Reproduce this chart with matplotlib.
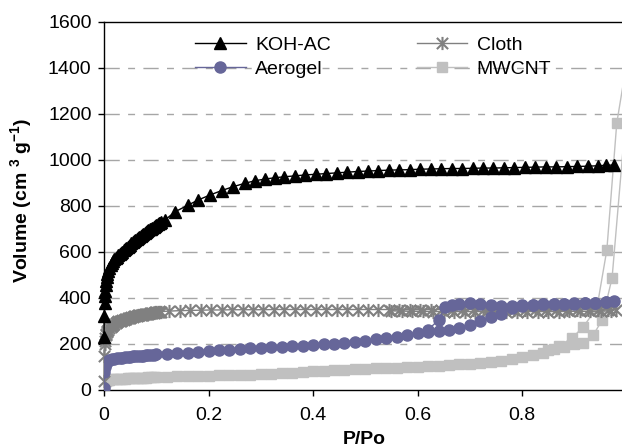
import matplotlib
matplotlib.use("Agg")
import matplotlib.pyplot as plt
from matplotlib.path import Path

plt.rcParams['font.family'] = ['Liberation Sans', 'DejaVu Sans']
plt.rcParams['mathtext.fontset'] = 'custom'
plt.rcParams['mathtext.rm'] = 'Liberation Sans'
plt.rcParams['mathtext.bf'] = 'Liberation Sans:bold'

# ---------------- data ----------------
koh_x = [0.0, 0.0005, 0.001, 0.0015, 0.002, 0.003, 0.004, 0.005, 0.0065, 0.008,
         0.01, 0.0125, 0.015, 0.0175, 0.02, 0.0225, 0.025, 0.0275, 0.03, 0.0325,
         0.035, 0.0375, 0.04, 0.0425, 0.045, 0.0475, 0.05, 0.0525, 0.055, 0.0575,
         0.06, 0.0625, 0.065, 0.0675, 0.07, 0.0725, 0.075, 0.0775, 0.08, 0.0825,
         0.085, 0.0875, 0.09, 0.0925, 0.095, 0.0975, 0.1, 0.1025, 0.105, 0.1075, 0.11,
         0.117, 0.136, 0.161, 0.18, 0.203, 0.225,
         0.247, 0.27, 0.289, 0.308, 0.327, 0.345, 0.365, 0.385, 0.405, 0.425, 0.445, 0.465,
         0.485, 0.505, 0.525, 0.545, 0.565, 0.585, 0.605, 0.625, 0.645, 0.665, 0.685, 0.705,
         0.725, 0.745, 0.765, 0.785, 0.805, 0.825, 0.845, 0.865, 0.885, 0.905, 0.925, 0.945,
         0.96, 0.975]
koh_y = [230, 320, 380, 410, 430, 455, 475, 490, 505, 518,
         530, 542, 552, 560, 568, 574, 580, 585, 590, 596,
         602, 607, 612, 617, 622, 627, 632, 637, 642, 647,
         652, 657, 662, 666, 670, 674, 678, 682, 687, 691,
         695, 698, 702, 706, 710, 714, 718, 721, 725, 728, 732,
         740, 775, 804, 826, 848, 867,
         884, 899, 910, 917, 923, 927, 931, 935, 938, 941, 944, 947,
         950, 952, 954, 956, 957, 958, 960, 961, 962, 963, 963, 964,
         965, 965, 966, 967, 968, 969, 970, 970, 971, 972, 973, 975,
         977, 978]

aero_x = [0.0, 0.0005, 0.001, 0.002, 0.003, 0.005, 0.0075, 0.01, 0.015, 0.02, 0.025,
          0.03, 0.035, 0.04, 0.045, 0.05, 0.055, 0.06, 0.065, 0.07, 0.075, 0.08, 0.085,
          0.09, 0.095, 0.1, 0.12, 0.14, 0.16, 0.18, 0.2, 0.22, 0.24, 0.26, 0.28, 0.3, 0.32,
          0.34, 0.36, 0.38, 0.4, 0.42, 0.44, 0.46, 0.48, 0.5, 0.52, 0.54, 0.56, 0.58, 0.6,
          0.62, 0.64, 0.66, 0.68, 0.7, 0.72, 0.74, 0.76, 0.78, 0.8, 0.82, 0.84, 0.86, 0.88,
          0.9, 0.92, 0.94, 0.96, 0.975,
          0.96, 0.94, 0.92, 0.9, 0.88, 0.86, 0.84, 0.82, 0.8, 0.78, 0.76, 0.74, 0.72, 0.7,
          0.68, 0.665, 0.653, 0.64, 0.62]
aero_y = [10, 80, 100, 110, 117, 123, 127, 130, 133, 135, 137,
          139, 141, 142, 144, 145, 146, 147, 148, 149, 150, 151, 152,
          153, 154, 155, 158, 160, 162, 166, 169, 173, 176, 179, 182, 184, 186,
          188, 190, 192, 195, 198, 201, 205, 210, 215, 220, 226, 232, 240, 248,
          254, 258, 262, 269, 283, 299, 317, 332, 356, 366, 370, 372, 373, 375,
          376, 377, 379, 382, 386,
          383, 380, 379, 377, 375, 373, 372, 370, 368, 365, 366, 370, 372, 378,
          376, 370, 362, 304, 262]

cloth_x = [0.0, 0.0005, 0.001, 0.0015, 0.002, 0.003, 0.004, 0.005, 0.0065, 0.008,
           0.01, 0.0125, 0.015, 0.0175, 0.02, 0.0225, 0.025, 0.0275, 0.03, 0.0325,
           0.035, 0.0375, 0.04, 0.0425, 0.045, 0.0475, 0.05, 0.0525, 0.055, 0.0575,
           0.06, 0.0625, 0.065, 0.0675, 0.07, 0.0725, 0.075, 0.0775, 0.08, 0.0825,
           0.085, 0.0875, 0.09, 0.0925, 0.095, 0.0975, 0.1, 0.1025, 0.105, 0.1075, 0.11,
           0.125, 0.145, 0.165, 0.185, 0.205, 0.225, 0.245, 0.265,
           0.285, 0.305, 0.325, 0.345, 0.365, 0.385, 0.405, 0.425, 0.445, 0.465, 0.485,
           0.505, 0.525, 0.545, 0.565, 0.585, 0.605, 0.625, 0.645, 0.665, 0.685, 0.705,
           0.725, 0.745, 0.765, 0.785, 0.805, 0.825, 0.845, 0.865, 0.885, 0.905, 0.925,
           0.945, 0.965, 0.98,
           0.97, 0.95, 0.93, 0.91, 0.89, 0.87, 0.85, 0.83, 0.81, 0.79, 0.77, 0.75, 0.73,
           0.71, 0.69, 0.67, 0.65, 0.63, 0.61, 0.59, 0.57, 0.55]
cloth_y = [40, 150, 200, 215, 225, 238, 245, 252, 258, 263,
           270, 275, 280, 284, 288, 292, 295, 298, 300, 302,
           304, 306, 308, 310, 312, 314, 315, 317, 318, 320,
           321, 323, 324, 325, 326, 327, 328, 329, 330, 331,
           332, 333, 334, 335, 336, 337, 338, 339, 340, 340, 341,
           343, 345, 346, 347, 348, 348, 349, 349,
           349, 349, 350, 350, 350, 350, 350, 350, 350, 350, 350,
           350, 350, 350, 350, 350, 350, 350, 350, 350, 350, 350,
           350, 350, 350, 350, 350, 350, 350, 350, 350, 350, 350,
           350, 350, 350,
           344, 343, 342, 342, 342, 341, 341, 341, 341, 341, 341, 341, 341,
           341, 341, 341, 341, 341, 342, 342, 343, 344]

mw_x = [0.0, 0.0005, 0.001, 0.002, 0.003, 0.005, 0.0075, 0.01, 0.015, 0.02, 0.025,
        0.03, 0.035, 0.04, 0.045, 0.05, 0.055, 0.06, 0.065, 0.07, 0.075, 0.08, 0.085,
        0.09, 0.095, 0.1, 0.12, 0.14, 0.16, 0.18, 0.2, 0.22, 0.24, 0.26, 0.28, 0.3, 0.32,
        0.34, 0.36, 0.38, 0.4, 0.42, 0.44, 0.46, 0.48, 0.5, 0.52, 0.54, 0.56, 0.58, 0.6,
        0.62, 0.64, 0.66, 0.68, 0.7, 0.72, 0.74, 0.76, 0.78, 0.8, 0.82, 0.84, 0.86, 0.88,
        0.9, 0.917, 0.936, 0.953, 0.972, 1.01,
        1.01, 0.981, 0.962, 0.943, 0.917, 0.895, 0.87, 0.85]
mw_y = [5, 25, 35, 38, 40, 42, 44, 45, 46, 47, 48,
        49, 50, 50, 51, 51, 52, 52, 53, 53, 54, 54, 55,
        55, 56, 56, 58, 60, 61, 62, 63, 64, 64, 65, 66, 68, 70,
        72, 75, 78, 81, 84, 87, 89, 91, 92, 94, 96, 97, 99, 100,
        103, 106, 109, 112, 114, 117, 122, 128, 135, 142, 151, 162, 177, 188,
        200, 206, 239, 304, 487, 1500,
        1560, 1161, 609, 357, 275, 225, 192, 172]

xticks = [0, 0.2, 0.4, 0.6, 0.8]
xtick_labels = ['0', '0.2', '0.4', '0.6', '0.8']
yticks = [0, 200, 400, 600, 800, 1000, 1200, 1400, 1600]

# ---------------- figure ----------------
fig = plt.figure(figsize=(6.22, 4.47), dpi=100)
L, R, B, T = 104 / 622, 1.0, 1 - 390 / 447, 1 - 22 / 447
ax = fig.add_axes([L, B, R - L, T - B])

star = Path([(-0.85, -0.85), (0.85, 0.85), (-0.85, 0.85), (0.85, -0.85), (0, -1), (0, 1)],
            [Path.MOVETO, Path.LINETO, Path.MOVETO, Path.LINETO, Path.MOVETO, Path.LINETO])

ax.plot(koh_x, koh_y, color='black', lw=1, marker='^', ms=9, mfc='black', mec='black',
        label='KOH-AC', zorder=5, clip_on=False)
ax.plot(aero_x, aero_y, color='#666699', lw=1, marker='o', ms=8, mfc='#666699',
        mec='#666699', label='Aerogel', zorder=4)
ax.plot(cloth_x, cloth_y, color='#808080', lw=1, marker=star, ms=9.5, mfc='none',
        mec='#808080', mew=1.5, label='Cloth', zorder=3, clip_on=False)
ax.plot(mw_x, mw_y, color='#c0c0c0', lw=1, marker='s', ms=7, mfc='#c0c0c0',
        mec='#c0c0c0', label='MWCNT', zorder=2)

ax.set_xlim(0, 0.991)
ax.set_ylim(0, 1600)
ax.set_xticks(xticks)
ax.set_xticklabels(xtick_labels)
ax.set_yticks(yticks)
ax.tick_params(axis='both', direction='out', length=4, width=1, labelsize=14, color='black')
ax.tick_params(axis='x', pad=8)
ax.tick_params(axis='y', pad=5)

for yv in yticks[1:-1]:
    ax.axhline(yv, color='#a6a6a6', lw=1, linestyle=(0, (11, 6, 5, 6)), zorder=1)

ax.spines['right'].set_visible(False)
for s in ['left', 'bottom', 'top']:
    ax.spines[s].set_linewidth(1)
    ax.spines[s].set_color('black')

ax.set_xlabel('P/Po', fontsize=14, fontweight='bold')
ax.xaxis.set_label_coords((364 - 104) / 518, (390 - 431) / 368)
ax.set_ylabel(r'Volume (cm $^{\mathbf{3}}$ g$^{\mathbf{-1}}$)', fontsize=14, fontweight='bold')
ax.yaxis.set_label_coords((35 - 104) / 518, (390 - 200) / 368)

handles, labels = ax.get_legend_handles_labels()
order = [0, 1, 2, 3]
ax.legend([handles[i] for i in order], [labels[i] for i in order], ncol=2, frameon=False,
          fontsize=14, loc='upper left', bbox_to_anchor=((195 - 104) / 518, (390 - 36) / 368),
          borderpad=0, borderaxespad=0, handlelength=2.6, handletextpad=0.5,
          columnspacing=4.4, labelspacing=0.35)

fig.savefig('out.png', dpi=100)
